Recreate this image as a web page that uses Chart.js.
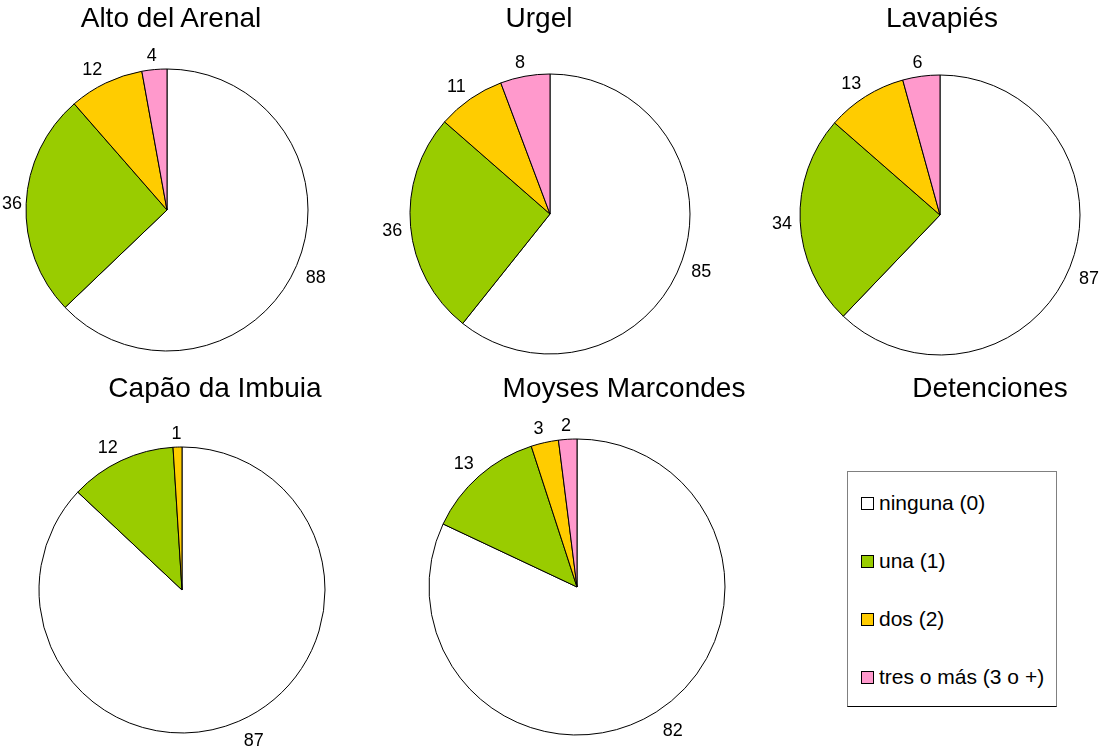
<!DOCTYPE html>
<html lang="es">
<head>
    <meta charset="UTF-8">
    <title>Detenciones</title>
    <script src="https://cdn.jsdelivr.net/npm/chart.js"></script>
    <style>
        html, body { margin: 0; padding: 0; background: #fff; overflow: hidden; }
        body { width: 1099px; height: 753px; position: relative; font-family: "Liberation Sans", Arial, sans-serif; color: #000; }
        .pie { position: absolute; }
        .title { position: absolute; transform: translate(-50%, -50%); font-size: 28px; line-height: 1; white-space: nowrap; }
        #legend { position: absolute; left: 847px; top: 471px; width: 208px; height: 232px; padding-top: 2px;
                  border: 1px solid #808080; border-bottom-color: #000; }
        .row { height: 58px; display: flex; align-items: center; padding-left: 13px; font-size: 21px; white-space: nowrap; }
        .sw { width: 11px; height: 11px; border: 1px solid #000; margin-right: 5px; flex: none; }
    </style>
</head>
<body>
    <div id="legend"></div>

    <script>
        // categorias de detenciones
        const categories = ['ninguna (0)', 'una (1)', 'dos (2)', 'tres o más (3 o +)'];
        const barrios = ['Alto del Arenal', 'Urgel', 'Lavapiés', 'Capão da Imbuia', 'Moyses Marcondes'];
        const legendTitle = 'Detenciones';

        // valores por barrio (mismo orden que categories)
        const altoArenal = [88, 36, 12, 4];
        const urgel = [85, 36, 11, 8];
        const lavapies = [87, 34, 13, 6];
        const capao = [87, 12, 1, 0];
        const moyses = [82, 13, 3, 2];
        const series = [altoArenal, urgel, lavapies, capao, moyses];

        const colors = ['#FFFFFF', '#99CC00', '#FFCC00', '#FF99CC'];

        // posicion de cada torta y su titulo
        const layout = [
            { cx: 167, cy: 210, r: 141, tx: 171, ty: 18 },
            { cx: 550, cy: 214, r: 140, tx: 539, ty: 18 },
            { cx: 940, cy: 215, r: 140, tx: 942, ty: 18 },
            { cx: 182, cy: 590, r: 143, tx: 215, ty: 388 },
            { cx: 577, cy: 587, r: 148, tx: 624, ty: 388 }
        ];
        const PAD = 50;
        const LABEL_SIZE = 18;

        // etiquetas de valor fuera de cada porcion
        const outsideLabels = {
            id: 'outsideLabels',
            afterDatasetsDraw(chart) {
                const ctx = chart.ctx;
                const data = chart.data.datasets[0].data;
                const pageLeft = chart.canvas.parentNode.offsetLeft;
                ctx.save();
                ctx.font = LABEL_SIZE + 'px "Liberation Sans", Arial, sans-serif';
                ctx.fillStyle = '#000';
                ctx.textAlign = 'center';
                ctx.textBaseline = 'alphabetic';
                chart.getDatasetMeta(0).data.forEach((arc, i) => {
                    if (!data[i]) return;
                    const p = arc.getProps(['x', 'y', 'startAngle', 'endAngle', 'outerRadius'], true);
                    const mid = (p.startAngle + p.endAngle) / 2;
                    const dx = Math.cos(mid), dy = Math.sin(mid);
                    const txt = String(data[i]);
                    const w = ctx.measureText(txt).width;
                    const h = 14;
                    const gap = 8 + 5 * Math.max(dy, 0);
                    const sx = Math.max(-1, Math.min(1, dx * 4));
                    const sy = Math.max(-1, Math.min(1, dy * 4));
                    let x = p.x + dx * (p.outerRadius + gap) + sx * w / 2;
                    const y = p.y + dy * (p.outerRadius + gap) + sy * h / 2;
                    // no salir del borde izquierdo de la pagina
                    x = Math.max(x, -pageLeft + w / 2 + 2);
                    ctx.fillText(txt, x, y + LABEL_SIZE * 0.36);
                });
                ctx.restore();
            }
        };

        series.forEach((values, k) => {
            const L = layout[k];
            const size = 2 * (L.r + PAD);
            const box = document.createElement('div');
            box.className = 'pie';
            box.style.left = (L.cx - size / 2) + 'px';
            box.style.top = (L.cy - size / 2) + 'px';
            box.style.width = size + 'px';
            box.style.height = size + 'px';
            const canvas = document.createElement('canvas');
            box.appendChild(canvas);
            document.body.appendChild(box);

            const t = document.createElement('div');
            t.className = 'title';
            t.style.left = L.tx + 'px';
            t.style.top = L.ty + 'px';
            t.textContent = barrios[k];
            document.body.appendChild(t);

            new Chart(canvas, {
                type: 'pie',
                data: {
                    labels: categories,
                    datasets: [{
                        data: values,
                        backgroundColor: colors,
                        borderColor: '#000',
                        borderWidth: 1,
                        radius: L.r
                    }]
                },
                options: {
                    responsive: true,
                    maintainAspectRatio: false,
                    animation: false,
                    layout: { padding: 0 },
                    plugins: {
                        legend: { display: false },
                        tooltip: { enabled: false }
                    }
                },
                plugins: [outsideLabels]
            });
        });

        // titulo y leyenda
        const lt = document.createElement('div');
        lt.className = 'title';
        lt.style.left = '990px';
        lt.style.top = '388px';
        lt.textContent = legendTitle;
        document.body.appendChild(lt);

        document.getElementById('legend').innerHTML = categories.map((c, i) =>
            `<div class="row"><span class="sw" style="background:${colors[i]}"></span>${c}</div>`
        ).join('');
    </script>
</body>
</html>
